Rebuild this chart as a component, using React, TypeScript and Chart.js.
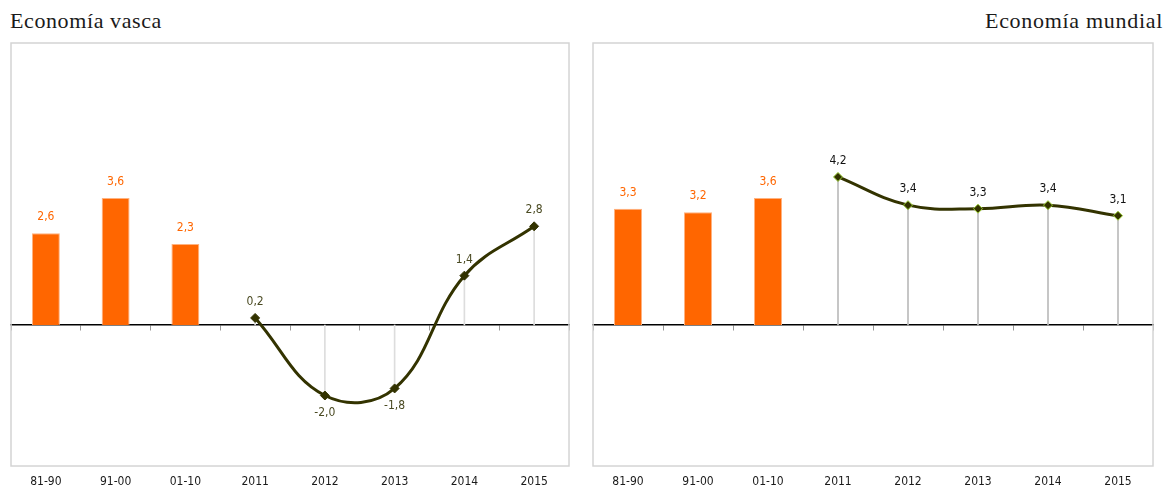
import React, { useEffect, useRef } from 'react';
import { Chart, registerables } from 'chart.js';

Chart.register(...registerables);

const categories = ['81-90', '91-00', '01-10', '2011', '2012', '2013', '2014', '2015'];
const vascaBars = [2.6, 3.6, 2.3, null, null, null, null, null];
const vascaLine = [null, null, null, 0.2, -2.0, -1.8, 1.4, 2.8];
const mundialBars = [3.3, 3.2, 3.6, null, null, null, null, null];
const mundialLine = [null, null, null, 4.2, 3.4, 3.3, 3.4, 3.1];
const yMin = -4;
const yMax = 8;

const NARROW = "'Liberation Sans Narrow', 'Arial Narrow', 'DejaVu Sans Condensed', sans-serif";
const ORANGE = '#FF6600';
const OLIVE = '#333300';
const CANVAS_H = 468;

const fmt = (v: number) => v.toFixed(1).replace('.', ',');

const framePlugin = {
  id: 'frame',
  beforeDatasetsDraw(chart: any) {
    const { ctx, chartArea } = chart;
    ctx.save();
    ctx.strokeStyle = '#D4D4D4';
    ctx.lineWidth = 1.5;
    ctx.strokeRect(chartArea.left, chartArea.top, chartArea.right - chartArea.left, chartArea.bottom - chartArea.top);
    ctx.restore();
  },
};

const labelPlugin = {
  id: 'valueLabels',
  afterDatasetsDraw(chart: any) {
    const ctx = chart.ctx;
    ctx.save();
    ctx.font = `12px ${NARROW}`;
    ctx.textAlign = 'center';
    ctx.textBaseline = 'middle';
    chart.data.datasets.forEach((ds: any, i: number) => {
      if (!ds.labelColor) return;
      const meta = chart.getDatasetMeta(i);
      meta.data.forEach((el: any, j: number) => {
        const v = ds.data[j];
        if (v == null) return;
        const below = v < 0;
        ctx.fillStyle = ds.labelColor;
        ctx.fillText(fmt(v), el.x, below ? el.y + 17 : el.y - 16);
      });
    });
    ctx.restore();
  },
};

function Panel({ bars, line, labelLineColor, pointBorder, dropColor, padLeft, padRight, width }: any) {
  const ref = useRef<HTMLCanvasElement>(null);
  useEffect(() => {
    if (!ref.current) return;
    const chart = new Chart(ref.current, {
      type: 'bar',
      data: {
        labels: categories,
        datasets: [
          {
            type: 'line',
            data: line,
            borderColor: OLIVE,
            borderWidth: 3,
            tension: 0.4,
            pointStyle: 'rectRot',
            pointRadius: 4.5,
            pointBackgroundColor: OLIVE,
            pointBorderColor: pointBorder,
            pointBorderWidth: 1,
            order: 0,
            labelColor: labelLineColor,
          } as any,
          {
            type: 'bar',
            data: bars,
            backgroundColor: ORANGE,
            borderColor: '#FFB27F',
            borderWidth: 1,
            borderSkipped: 'bottom',
            barPercentage: 0.4,
            categoryPercentage: 1,
            grouped: false,
            order: 1,
            labelColor: ORANGE,
          } as any,
          {
            type: 'bar',
            data: line,
            backgroundColor: dropColor,
            borderWidth: 0,
            barThickness: 1,
            grouped: false,
            order: 2,
          } as any,
        ],
      },
      options: {
        animation: false,
        responsive: false,
        events: [],
        layout: { padding: { left: padLeft, right: padRight, top: 7, bottom: 5.6 } },
        plugins: { legend: { display: false }, tooltip: { enabled: false } },
        scales: {
          x: {
            type: 'category',
            offset: true,
            grid: { display: false, drawTicks: false },
            border: { display: false },
            ticks: { color: '#1a1a1a', font: { size: 12, family: NARROW }, padding: 9, maxRotation: 0, autoSkip: false },
          },
          x2: {
            type: 'category',
            labels: categories,
            position: { y: 0 },
            offset: true,
            grid: { offset: true, drawOnChartArea: false, drawTicks: true, tickLength: 5, color: '#999999' },
            border: { color: '#000000', width: 1.5 },
            ticks: { display: false },
          } as any,
          y: {
            display: false,
            min: yMin,
            max: yMax,
          },
        },
      },
      plugins: [framePlugin, labelPlugin],
    });
    return () => chart.destroy();
  }, []);
  return <canvas ref={ref} width={width} height={CANVAS_H} style={{ width, height: CANVAS_H, display: 'block' }} />;
}

export default function App() {
  const titleStyle: React.CSSProperties = {
    position: 'absolute',
    top: 8,
    fontFamily: "'Liberation Serif', 'DejaVu Serif', serif",
    fontSize: 22,
    lineHeight: '26px',
    color: '#1a1a1a',
    whiteSpace: 'nowrap',
  };
  return (
    <div style={{ position: 'absolute', left: 0, top: 0, width: 1165, height: 494, background: '#fff', overflow: 'hidden' }}>
      <div style={{ ...titleStyle, left: 10, letterSpacing: '0.6px' }}>Economía vasca</div>
      <div style={{ ...titleStyle, right: 2, textAlign: 'right', letterSpacing: '0.7px' }}>Economía mundial</div>
      <div style={{ position: 'absolute', left: 0, top: 36 }}>
        <Panel bars={vascaBars} line={vascaLine} labelLineColor="#4A4A22" pointBorder={OLIVE} dropColor="#DDDDDD" padLeft={11} padRight={16} width={585} />
      </div>
      <div style={{ position: 'absolute', left: 583, top: 36 }}>
        <Panel bars={mundialBars} line={mundialLine} labelLineColor="#111111" pointBorder="#9ACD32" dropColor="#BBBBBB" padLeft={10} padRight={12} width={582} />
      </div>
    </div>
  );
}
